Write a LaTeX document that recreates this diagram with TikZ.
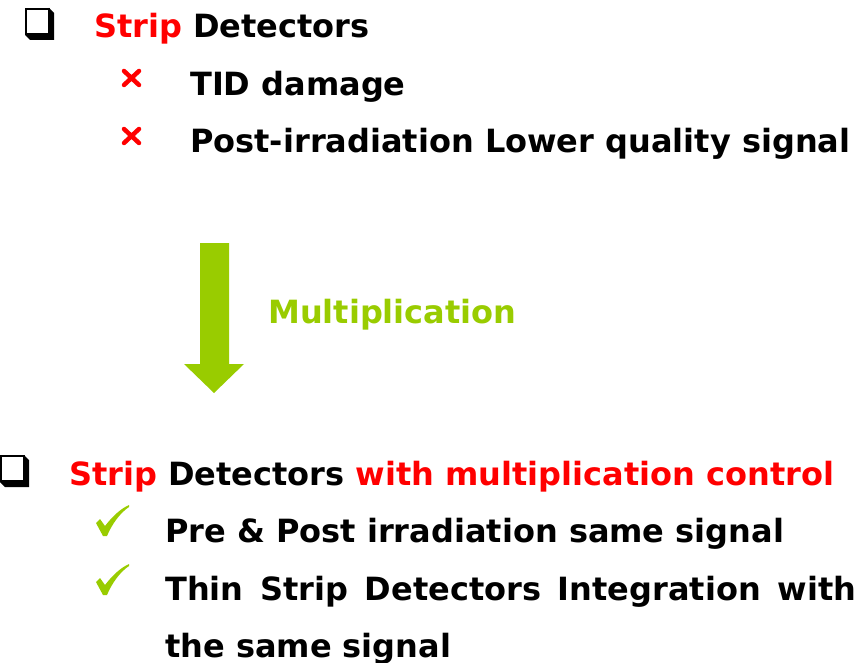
\documentclass[tikz,border=0pt]{standalone}
\usepackage{fontspec}
\setmainfont{DejaVu Sans}
\definecolor{hired}{HTML}{FF0000}
\definecolor{limegreen}{HTML}{99CC00}
\begin{document}
\begin{tikzpicture}[x=1pt,y=-1pt,
  txt/.style={anchor=base west,inner sep=0pt,font=\fontsize{32}{36}\selectfont\bfseries},
  crossline/.style={draw=hired,line width=4.5pt,line cap=round},
  boxline/.style={draw=black,line width=2pt,fill=white}]
\useasboundingbox (0,0) rectangle (864,663);
\fill[white] (0,0) rectangle (864,663);
% shadowed square bullets
\newcommand{\sqbullet}[2]{%
  \fill[black,shift={(#1,#2)}] (24,0) -- (29,5) -- (29,32) -- (5,32) -- (0,27) -- cycle;
  \draw[boxline,shift={(#1,#2)}] (1,1) rectangle (24,26);}
\sqbullet{25}{8}
\sqbullet{0}{455}
% red crosses
\newcommand{\cross}[2]{%
  \draw[crossline,shift={(#1,#2)}] (3,3) -- (18,17);
  \draw[crossline,shift={(#1,#2)}] (18,3) -- (3,17);}
% first block
\node[txt] (h1) at (94,38) {\textcolor{hired}{Strip} Detectors};
\cross{121}{68}
\node[txt] (t1) at (190,96) {TID damage};
\cross{121}{126}
\node[txt] (t2) at (190,153) {Post-irradiation Lower quality signal};
% transition arrow
\fill[limegreen] (200,243) -- (229,243) -- (229,364) -- (244,364) -- (214,393) -- (184,364) -- (200,364) -- cycle;
\node[txt,text=limegreen] (m) at (268,323) {Multiplication};
% second block
\node[txt] (h2) at (69,485) {\textcolor{hired}{Strip} Detectors \textcolor{hired}{with multiplication control}};
\newcommand{\tick}[2]{%
  \fill[limegreen,shift={(#1,#2)}] (0,18) -- (4,14) -- (9,21) .. controls (16,12) and (24,4) .. (33,0) -- (33,2) .. controls (24,8) and (16,19) .. (11,31) -- (7,31) -- cycle;}
\tick{96}{505}
\tick{96}{564}
\node[txt] (t3) at (165,542) {Pre \& Post irradiation same signal};
\node[txt] (t4) at (165,600) {\makebox[691pt][s]{Thin Strip Detectors Integration with}};
\node[txt] (t5) at (165,657) {the same signal};
\end{tikzpicture}
\end{document}
